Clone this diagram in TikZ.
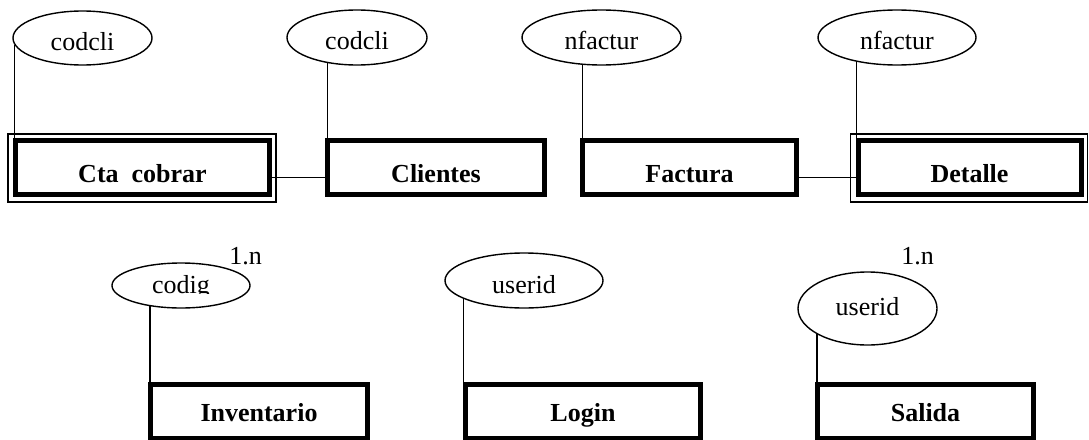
\documentclass[tikz,border=0pt]{standalone}
\usepackage{fontspec}
\setmainfont{Liberation Serif}
\usetikzlibrary{shapes.geometric,calc}

\begin{document}
\begin{tikzpicture}[x=1pt, y=-1pt,
  every node/.style={font=\fontsize{26}{30}\selectfont},
  entidad/.style={draw, line width=5pt, inner sep=0pt, minimum height=54pt, text depth=0pt, font=\fontsize{26}{30}\selectfont\bfseries},
  debil/.style={draw, line width=1.4pt},
  atributo/.style={draw, ellipse, line width=1.4pt, inner sep=0pt, minimum height=55pt, text depth=0pt},
  enlace/.style={line width=1.4pt}]
\useasboundingbox (0,0) rectangle (1089,439);

% entidades
\node[entidad, text height=29pt, minimum width=254pt] (cta) at (142.5,167.5) {Cta~~cobrar};
\node[entidad, text height=29pt, minimum width=217pt] (clientes) at (436,167.5) {Clientes};
\node[entidad, text height=29pt, minimum width=214pt] (factura) at (689.5,167.5) {Factura};
\node[entidad, text height=29pt, minimum width=223pt] (detalle) at (969.5,167.5) {Detalle};
\node[entidad, text height=20pt, minimum width=217pt] (inventario) at (259,411) {Inventario};
\node[entidad, text height=20pt, minimum width=235pt] (login) at (583,411) {Login};
\node[entidad, text height=20pt, minimum width=216pt] (salida) at (925.5,411) {Salida};

% entidades debiles
\draw[debil] ($(cta.north west)+(-5,-4)$) rectangle ($(cta.south east)+(4,5)$);
\draw[debil] ($(detalle.north west)+(-5,-4)$) rectangle ($(detalle.south east)+(4,5)$);

% atributos
\node[atributo, text height=24pt, minimum width=139pt, minimum height=54pt] (codcliA) at (82.5,38) {codcli};
\node[atributo, text height=24pt, minimum width=140pt] (codcliB) at (357,37.5) {codcli};
\node[atributo, text height=24pt, minimum width=159pt] (nfacturA) at (601.5,37.5) {nfactur};
\node[atributo, text height=24pt, minimum width=158pt] (nfacturB) at (897,37.5) {nfactur};
\node[atributo, minimum width=138pt, minimum height=45pt] (codig) at (181,285.5) {};
\begin{scope}
  \clip (110,255) rectangle (252,293);
  \node[text height=15pt, text depth=0pt] (codigtxt) at (codig.center) {codig};
\end{scope}
\node[atributo, text height=25.5pt, minimum width=158pt] (useridA) at (524,280.5) {userid};
\node[atributo, text height=13pt, minimum width=139pt, minimum height=73pt] (useridB) at (867.5,308.5) {userid};

% cardinalidades
\node (cardA) at (245.5,256) {1.n};
\node (cardB) at (917.5,256) {1.n};

% enlaces
\draw[enlace] (codcliA.186) -- (codcliA.186 |- cta.north);
\draw[enlace] (codcliB.221) -- (codcliB.221 |- clientes.north);
\draw[enlace] (nfacturA.235) -- (nfacturA.235 |- factura.north);
\draw[enlace] (nfacturB.211) -- (nfacturB.211 |- detalle.north);
\draw[enlace] (codig.214) -- (codig.214 |- inventario.north);
\draw[enlace] (useridA.197) -- (useridA.197 |- login.north);
\draw[enlace] (useridB.207) -- (useridB.207 |- salida.north);
\draw[enlace] ([yshift=-10pt]cta.east) -- ([yshift=-10pt]cta.east -| clientes.west);
\draw[enlace] ([yshift=-10pt]factura.east) -- ([yshift=-10pt]factura.east -| detalle.west);
\end{tikzpicture}
\end{document}
